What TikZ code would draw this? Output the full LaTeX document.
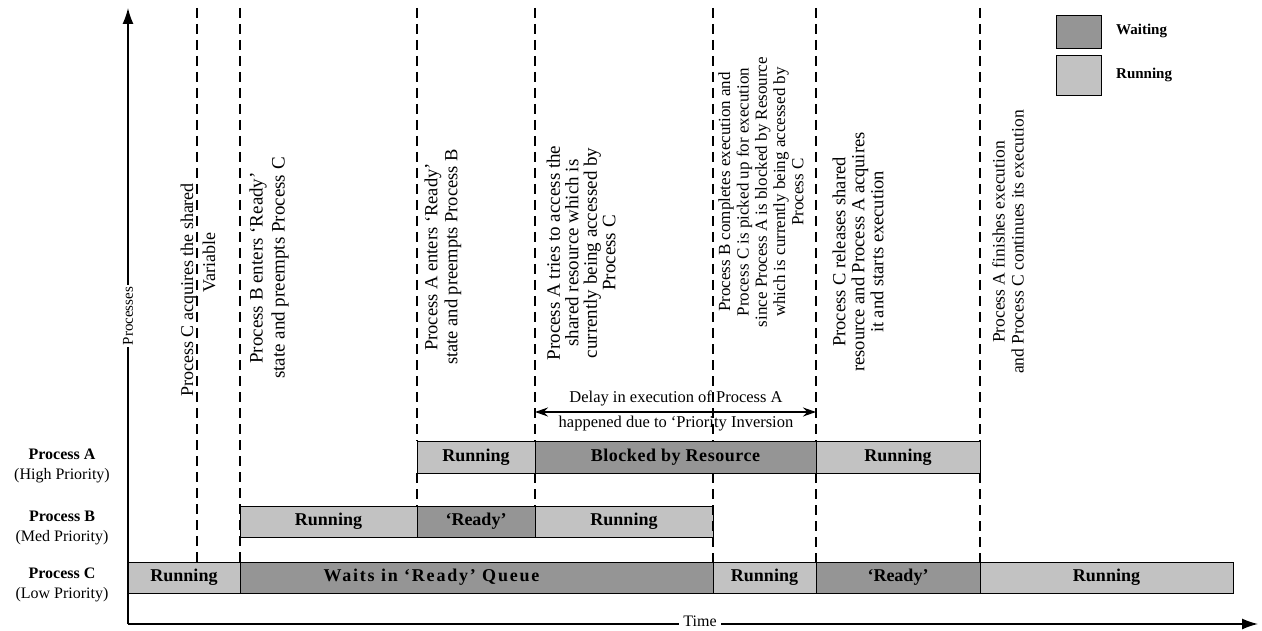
\documentclass[tikz,border=0pt]{standalone}
\usepackage{fontspec}
\setmainfont{Liberation Serif}
\usetikzlibrary{arrows.meta}
\definecolor{runfill}{HTML}{C2C2C2}
\definecolor{waitfill}{HTML}{959595}
\begin{document}
\begin{tikzpicture}[x=1pt,y=-1pt,
  bar/.style={draw=black, line width=1pt, inner sep=0pt, outer sep=0pt,
    minimum height=31pt, anchor=north west,
    font=\fontsize{18}{20}\selectfont\bfseries},
  run/.style={bar, fill=runfill},
  wait/.style={bar, fill=waitfill},
  note/.style={rotate=90, align=center, inner sep=0pt},
  dashline/.style={line width=1.5pt, dash pattern=on 10pt off 6pt},
  axisline/.style={line width=1.4pt, -{Latex[length=16pt,width=11pt]}},
  delayarrow/.style={line width=1.2pt, {Stealth[length=13pt,width=9pt]}-{Stealth[length=13pt,width=9pt]}},
  plabel/.style={align=center, inner sep=0pt, font=\fontsize{16}{20}\selectfont},
  legbox/.style={draw=black, line width=1pt, inner sep=0pt, minimum width=45pt},
  legtext/.style={anchor=west, inner sep=0pt, font=\fontsize{15}{17}\selectfont\bfseries}
]
\useasboundingbox (0,0) rectangle (1262,631);

% axis coordinates
\coordinate (O) at (128,624);
\coordinate (Ytop) at (128,8);
\coordinate (Xend) at (1258,624);

% event line tops
\coordinate (t1) at (197,8);
\coordinate (t2) at (240,8);
\coordinate (t3) at (417,8);
\coordinate (t4) at (535,8);
\coordinate (t5) at (713,8);
\coordinate (t6) at (816,8);
\coordinate (t7) at (980,8);

% Process C bars
\node[run, minimum width=112pt] (cRun1) at (128,562) {Running};
\node[wait, minimum width=473pt] (cWait) at (240,562) {\addfontfeatures{LetterSpace=10}Waits in ‘Ready’ Queue\hspace*{90pt}};
\node[run, minimum width=103pt] (cRun2) at (713,562) {Running};
\node[wait, minimum width=164pt] (cReady) at (816,562) {‘Ready’};
\node[run, minimum width=253pt] (cRun3) at (980,562) {Running};

% Process B bars
\node[run, minimum width=177pt] (bRun1) at (240,506) {Running};
\node[wait, minimum width=118pt] (bReady) at (417,506) {‘Ready’};
\node[run, minimum width=178pt] (bRun2) at (535,506) {Running};

% Process A bars
\node[run, minimum width=118pt, minimum height=32pt] (aRun1) at (417,441) {Running};
\node[wait, minimum width=281pt, minimum height=32pt] (aBlock) at (535,441) {\addfontfeatures{LetterSpace=3}Blocked by Resource};
\node[run, minimum width=164pt, minimum height=32pt] (aRun2) at (816,441) {Running};

% dashed event lines
\draw[dashline] (t1) -- (t1 |- cRun1.north);
\draw[dashline] (t2) -- (t2 |- cWait.north);
\draw[dashline] (t3) -- (t3 |- aRun1.north);
\draw[dashline] (aRun1.south west) -- (bReady.north west);
\draw[dashline] (t4) -- (t4 |- aBlock.north);
\draw[dashline] (aBlock.south west) -- (bRun2.north west);
\draw[dashline] (t5) -- (t5 |- aBlock.north);
\draw[dashline] (t5 |- aBlock.south) -- (t5 |- cRun2.north);
\draw[dashline] (t6) -- (t6 |- aRun2.north);
\draw[dashline] (aRun2.south west) -- (cReady.north west);
\draw[dashline] (t7) -- (t7 |- aRun2.north);
\draw[dashline] (aRun2.south east) -- (cRun3.north west);

% axes
\draw[axisline] (O) -- (Ytop);
\draw[axisline] (O) -- (Xend);
\node[fill=white, rotate=90, inner sep=2pt, font=\fontsize{15}{17}\selectfont] (ylab) at (128,316) {Processes};
\node[fill=white, inner xsep=4pt, inner ysep=0pt, font=\fontsize{16}{18}\selectfont] (xlab) at (700,621) {Time};

% process labels
\node[plabel] (labA) at (62,466) {\textbf{Process A}\\(High Priority)};
\node[plabel] (labB) at (62,528) {\textbf{Process B}\\(Med Priority)};
\node[plabel] (labC) at (62,585) {\textbf{Process C}\\(Low Priority)};

% event notes
\node[note, font=\fontsize{18}{22}\selectfont] (n1) at (198,290) {Process C acquires the shared\\\hspace*{54pt}Variable};
\node[note, font=\fontsize{19}{22}\selectfont] (n2) at (269,268) {Process B enters ‘Ready’\\state and preempts Process C};
\node[note, font=\fontsize{18.5}{20}\selectfont] (n3) at (443,257) {Process A enters ‘Ready’\\state and preempts Process B};
\node[note, font=\fontsize{19}{18.5}\selectfont] (n4) at (581,253) {Process A tries to access the\\shared resource which is\\currently being accessed by\\Process C};
\node[note, font=\fontsize{17}{18.3}\selectfont] (n5) at (761,192) {Process B completes execution and\\Process C is picked up for execution\\since Process A is blocked by Resource\\which is currently being accessed by\\Process C};
\node[note, font=\fontsize{18.5}{19}\selectfont] (n6) at (858,252) {Process C releases shared\\resource and Process A acquires\\it and starts execution};
\node[note, font=\fontsize{17.5}{19}\selectfont] (n7) at (1008,242) {Process A finishes execution\\and Process C continues its execution};

% delay arrow
\coordinate (dl) at (535,412);
\coordinate (dr) at (816,412);
\draw[delayarrow] (dl) -- (dr);
\node[inner sep=0pt, font=\fontsize{16.5}{18}\selectfont] (dtxt1) at (676,398) {Delay in execution of Process A};
\node[inner sep=0pt, font=\fontsize{16.5}{18}\selectfont] (dtxt2) at (676,424) {happened due to ‘Priority Inversion};

% legend
\node[legbox, fill=waitfill, minimum height=33pt] (legW) at (1078.5,32) {};
\node[legbox, fill=runfill, minimum height=40pt] (legR) at (1078.5,76) {};
\node[legtext] (legWt) at (1116,31) {Waiting};
\node[legtext] (legRt) at (1116,75) {Running};
\end{tikzpicture}
\end{document}
